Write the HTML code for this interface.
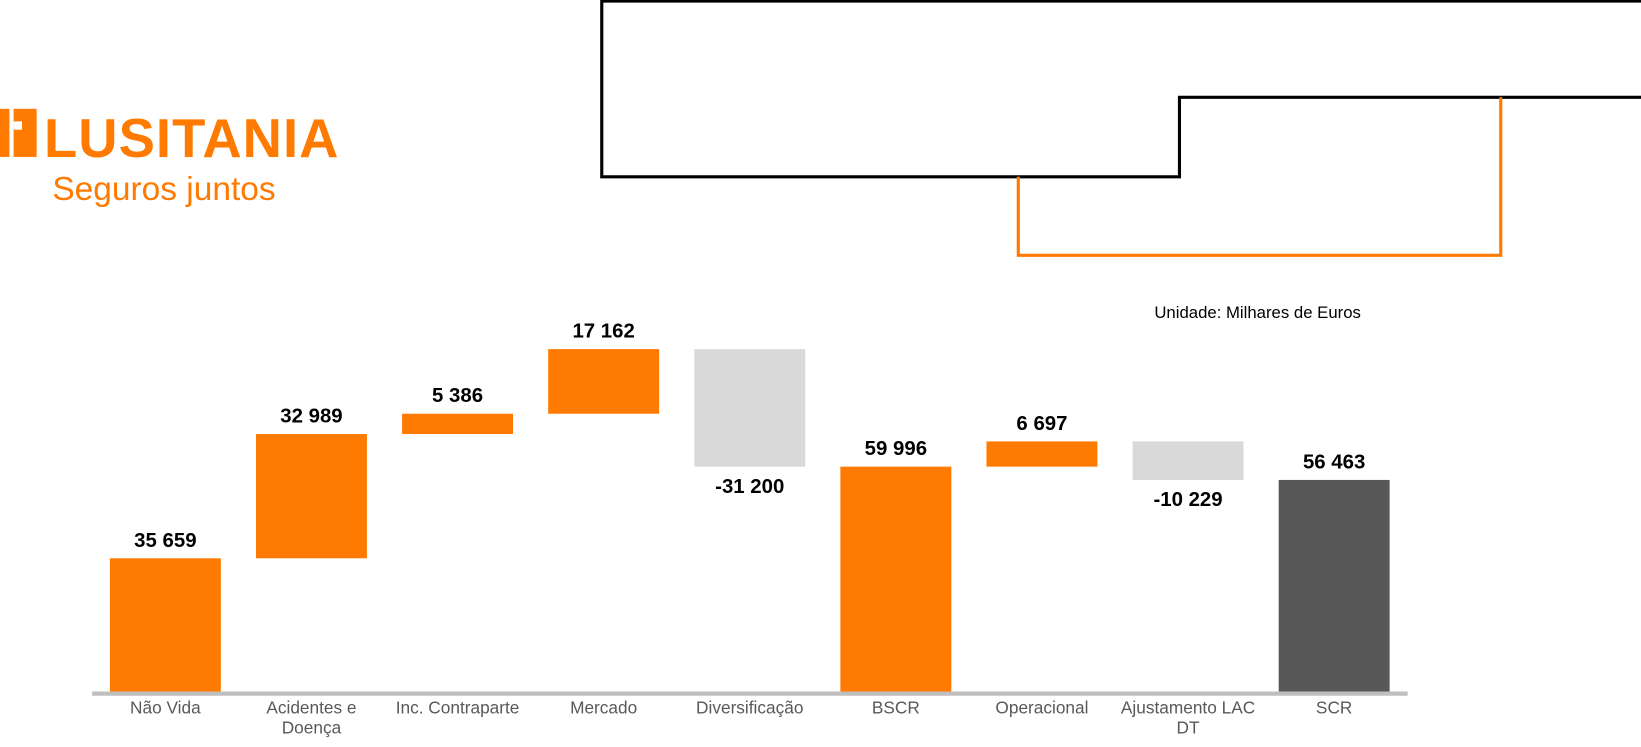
<!DOCTYPE html>
<html><head><meta charset="utf-8"><style>
body{margin:0;width:1641px;height:747px;background:#fff;overflow:hidden;font-family:"Liberation Sans",sans-serif;}
svg{position:absolute;left:0;top:0}
</style></head><body>
<svg width="1641" height="747" viewBox="0 0 1568 714" preserveAspectRatio="none">
<g>
<polyline points="1568,1 575,1 575,169 1127,169 1127,93 1568,93" fill="none" stroke="#000" stroke-width="3"/>
<polyline points="973,169 973,244 1434,244 1434,93" fill="none" stroke="#ff7a00" stroke-width="3"/>
</g>
<g fill="#ff7a00">
<rect x="0" y="104" width="9" height="46"/><rect x="13" y="104" width="22" height="46"/>
<rect x="13" y="116" width="8" height="8" fill="#fff"/>
<text x="42" y="150" font-size="52" font-weight="bold" letter-spacing="1">LUSITANIA</text>
<text x="50" y="191" font-size="32">Seguros juntos</text>
</g>
<text x="1103" y="304" font-size="16">Unidade: Milhares de Euros</text>
<g id="bars"></g>
<line x1="88" y1="663" x2="1345" y2="663" stroke="#bfbfbf" stroke-width="4"/>
</svg>
<script>
const categories=["Não Vida","Acidentes e|Doença","Inc. Contraparte","Mercado","Diversificação","BSCR","Operacional","Ajustamento LAC|DT","SCR"];
const values=[35659,32989,5386,17162,-31200,59996,6697,-10229,56463];
const isTotal=[false,false,false,false,false,true,false,false,true];
const labels=["35 659","32 989","5 386","17 162","-31 200","59 996","6 697","-10 229","56 463"];
const g=document.getElementById('bars');
const NS="http://www.w3.org/2000/svg";
const y=v=>662-v*0.0036;
const x=i=>158+i*139.6;
let cum=0;
values.forEach((v,i)=>{
  let a,b,col;
  if(isTotal[i]){a=0;b=v;cum=v;col=i===8?'#585858':'#ff7a00';}
  else{a=cum;b=cum+v;cum=b;col=v<0?'#d9d9d9':'#ff7a00';}
  const r=document.createElementNS(NS,'rect');
  
  
  r.setAttribute('x',x(i)-53);r.setAttribute('width',106);
  r.setAttribute('y',y(Math.max(a,b)));r.setAttribute('height',Math.abs(y(a)-y(b)));
  r.setAttribute('fill',col);g.appendChild(r);
  const t=document.createElementNS(NS,'text');
  
  
  t.setAttribute('x',x(i));t.setAttribute('text-anchor','middle');
  t.setAttribute('font-size','19.5');t.setAttribute('font-weight','bold');
  t.setAttribute('y',v<0&&!isTotal[i]?y(Math.min(a,b))+25:y(Math.max(a,b))-11);
  t.textContent=labels[i];g.appendChild(t);
  categories[i].split('|').forEach((ln,k)=>{
    const c=document.createElementNS(NS,'text');
    
    
    c.setAttribute('x',x(i));c.setAttribute('y',682+k*19);
    c.setAttribute('text-anchor','middle');c.setAttribute('font-size','16.5');c.setAttribute('fill','#595959');
    c.textContent=ln;g.appendChild(c);
  });
});
</script>
</body></html>
